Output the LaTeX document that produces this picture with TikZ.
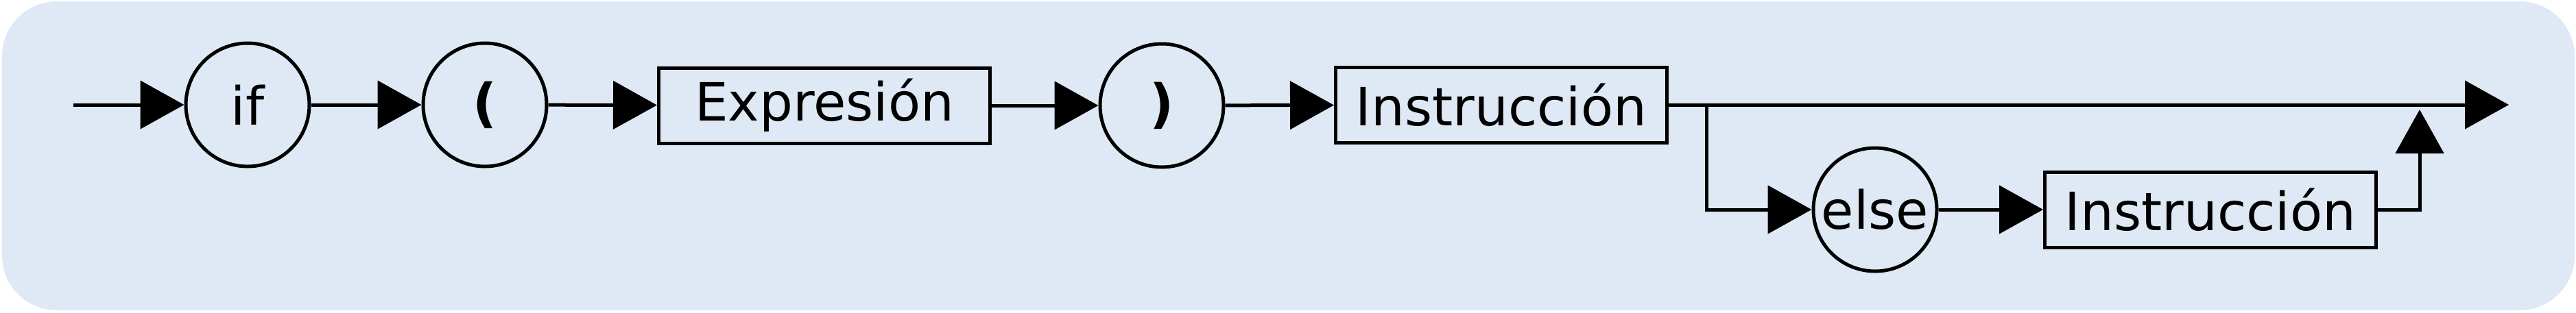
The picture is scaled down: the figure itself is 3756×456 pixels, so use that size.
\documentclass[tikz,border=0pt]{standalone}
\usepackage{fontspec}
\setmainfont{DejaVu Sans}
\usetikzlibrary{arrows.meta}
\definecolor{bgblue}{RGB}{222,233,245}
\begin{document}
\begin{tikzpicture}[x=0.2pt,y=-0.2pt,
  every node/.style={font=\fontsize{15.4pt}{18pt}\selectfont, inner sep=0pt},
  term/.style={draw, line width=1pt, circle, minimum size=36pt},
  nonterm/.style={draw, line width=1pt, rectangle, minimum width=96.6pt, minimum height=22pt},
  conn/.style={line width=1pt},
  arr/.style={line width=1pt, -{Triangle[length=12.8pt,width=14pt]}}]
\useasboundingbox (0,0) rectangle (3756,456);
\fill[bgblue, rounded corners=16pt] (3,2) rectangle (3754,453);
\coordinate (start) at (107,153);
\node[term] (if) at (361,153) {if};
\node[term] (lp) at (707,153) {\bfseries (};
\node[nonterm] (expr) at (1202,154) {Expresión};
\node[term] (rp) at (1694,154) {\bfseries )};
\node[nonterm] (instr) at (2189,153) {Instrucción};
\coordinate (branch) at (2488,153);
\coordinate (end) at (3658,153);
\node[term] (else) at (2734,306) {else};
\node[nonterm] (instr2) at (3223,306) {Instrucción};
\coordinate (up) at (3528,160);
\draw[arr] (start) -- (if);
\draw[arr] (if) -- (lp);
\draw[arr] (lp) -- (expr);
\draw[arr] (expr) -- (rp);
\draw[arr] (rp) -- (instr);
\draw[arr] (instr.east) -- (end);
\draw[arr] (branch) |- (else.west);
\draw[arr] (else) -- (instr2);
\draw[arr] (instr2.east) -| (up);
\end{tikzpicture}
\end{document}
